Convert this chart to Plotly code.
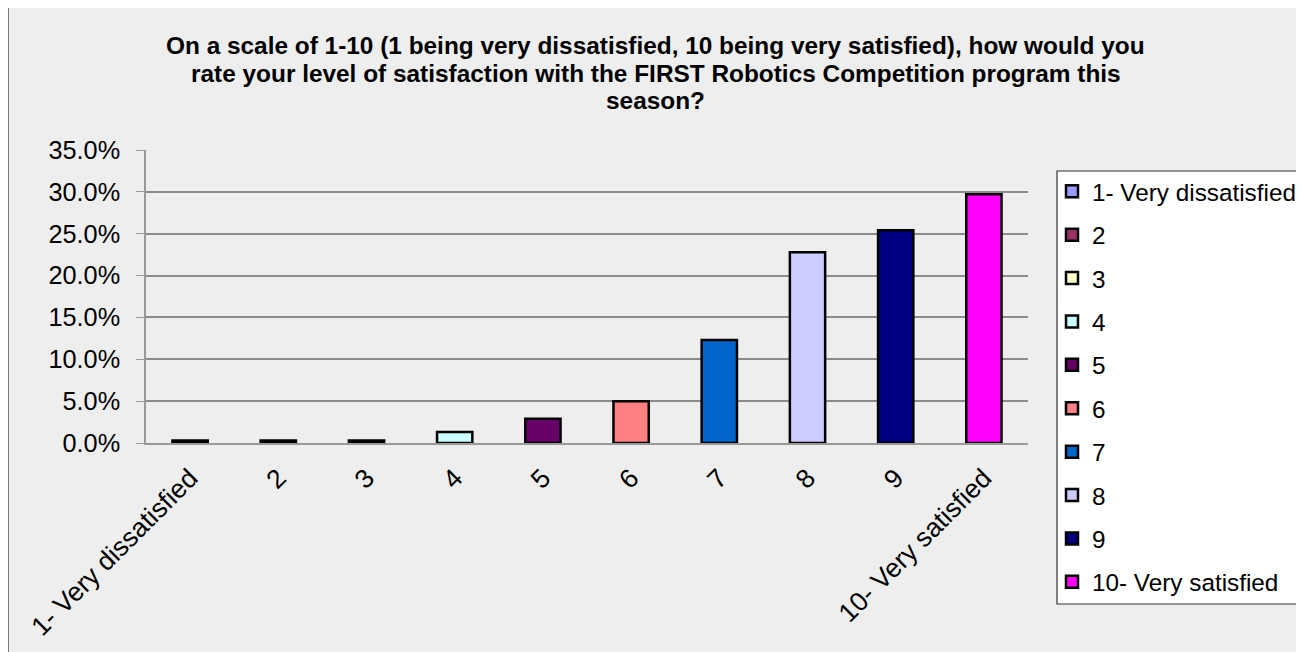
import plotly.graph_objects as go

categories = ["1- Very dissatisfied", "2", "3", "4", "5", "6", "7", "8", "9", "10- Very satisfied"]
values = [0.003, 0.003, 0.003, 0.013, 0.029, 0.050, 0.123, 0.228, 0.254, 0.297]
colors = ["#9999FF", "#993366", "#FFFFCC", "#CCFFFF", "#660066",
          "#FF8080", "#0066CC", "#CCCCFF", "#000080", "#FF00FF"]
title_lines = [
    "On a scale of 1-10 (1 being very dissatisfied, 10 being very satisfied), how would you",
    "rate your level of satisfaction with the FIRST Robotics Competition program this",
    "season?",
]

FONT = "Liberation Sans, Arial, sans-serif"
OFF = 8  # page body margin offset (screen px = figure px + OFF)

fig = go.Figure()
for i, (cat, val, col) in enumerate(zip(categories, values, colors)):
    fig.add_trace(go.Bar(
        x=[cat], y=[val], name=cat, legendgroup=f"g{i}",
        marker=dict(color=col, line=dict(color="#000000", width=2.5)),
        width=0.4,
    ))

W, H = 1304, 652
L = 146 - OFF
T = 150 - OFF
R = W - (1028 - OFF)
B = H - (443 - OFF)
pw, ph = W - L - R, H - T - B


def sx(p):
    """paper x for a screen pixel"""
    return (p - OFF - L) / pw


def sy(p):
    """paper y for a screen pixel"""
    return (H - B - (p - OFF)) / ph


shapes = [
    dict(type="rect", xref="paper", yref="paper",
         x0=sx(8), x1=sx(1340), y0=sy(680), y1=sy(5),
         fillcolor="#EEEEEE", line=dict(color="#555555", width=1.5), layer="below"),
    dict(type="rect", xref="paper", yref="paper",
         x0=sx(1057), x1=sx(1340), y0=sy(604), y1=sy(171),
         fillcolor="#FFFFFF", line=dict(color="#333333", width=1.2), layer="below"),
]

annotations = []
for yc, line in zip([45, 74, 101], title_lines):
    annotations.append(dict(
        text=line, xref="paper", yref="paper", x=sx(655.5), y=sy(yc),
        xanchor="center", yanchor="middle", showarrow=False,
        font=dict(family=FONT, size=24.4, color="#000000", weight="bold"),
    ))

fig.update_layout(
    width=W, height=H,
    margin=dict(l=L, r=R, t=T, b=B, autoexpand=False),
    paper_bgcolor="#FFFFFF",
    plot_bgcolor="rgba(0,0,0,0)",
    barmode="relative",
    font=dict(family=FONT, color="#000000", size=25),
    shapes=shapes,
    annotations=annotations,
    showlegend=True,
    legend=dict(x=sx(1052), y=sy(169), xanchor="left", yanchor="top",
                xref="paper", yref="paper",
                bgcolor="rgba(0,0,0,0)", borderwidth=0,
                font=dict(family=FONT, size=24.3, color="#000000"),
                tracegroupgap=8.8, itemwidth=30, maxheight=620),
    xaxis=dict(type="category", categoryorder="array", categoryarray=categories,
               tickangle=-45, showgrid=False, showline=True, linecolor="#999999",
               linewidth=2, ticks="", ticklabelstandoff=7, tickfont=dict(size=26.5)),
    yaxis=dict(range=[0, 0.35], dtick=0.05, tick0=0, tickformat=".1%",
               showgrid=True, gridcolor="#8C8C8C", gridwidth=1.5,
               showline=True, linecolor="#999999", linewidth=1.5,
               ticks="outside", ticklen=8, tickcolor="#999999",
               ticklabelstandoff=11, zeroline=False, tickfont=dict(size=25.3)),
)

fig.write_html("out.html")
